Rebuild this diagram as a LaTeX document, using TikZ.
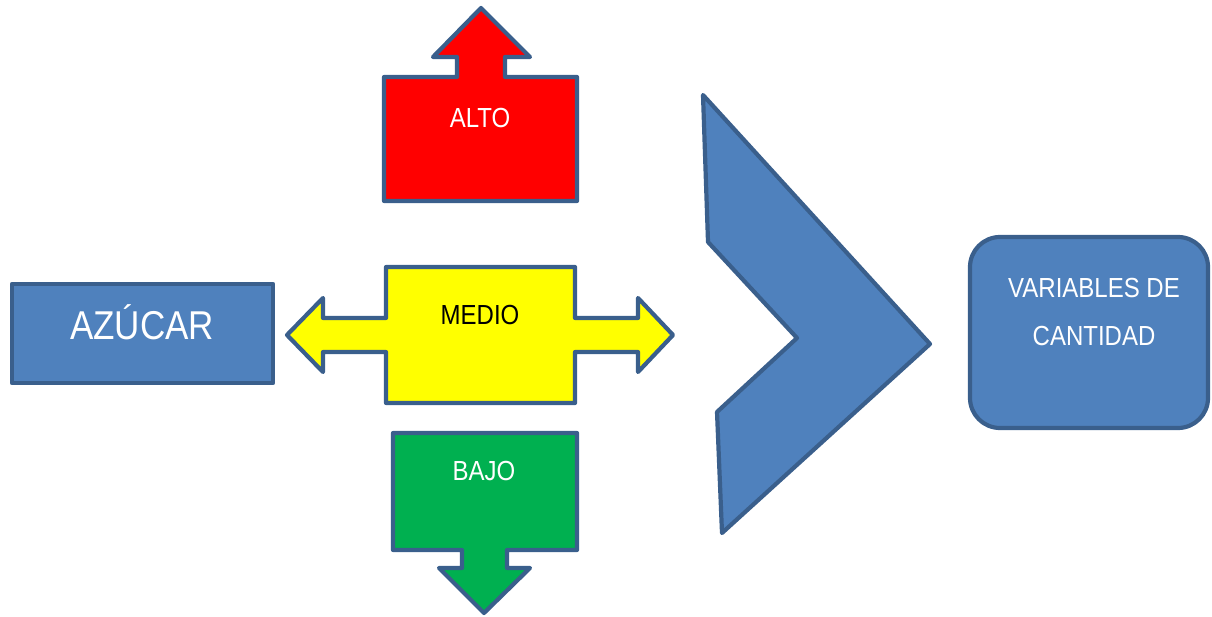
\documentclass[tikz,border=0pt]{standalone}
\usepackage{fontspec}
\setmainfont{Liberation Sans}
\definecolor{bluefill}{HTML}{4F81BD}
\definecolor{bluedraw}{HTML}{3A5F8C}
\definecolor{altored}{HTML}{FF0000}
\definecolor{medioyel}{HTML}{FFFF00}
\definecolor{bajogreen}{HTML}{00B050}
\tikzset{
  shapeline/.style={draw=bluedraw, line width=4.2pt, line join=round},
  lbl/.style={inner sep=0pt, font=\fontsize{24}{28}\selectfont},
}
\newcommand{\tall}[1]{\scalebox{1}[1.15]{#1}}
\begin{document}
\begin{tikzpicture}[x=1pt,y=-1pt]
\useasboundingbox (0,0) rectangle (1212,617);
% AZUCAR
\draw[shapeline, fill=bluefill] (12,284) rectangle (273,383);
\node[lbl, text=white, font=\fontsize{35}{38}\selectfont] (azucar) at (142,322) {\tall{AZÚCAR}};
% ALTO
\draw[shapeline, fill=altored] (481,8) -- (530,57) -- (505,57) -- (505,77) -- (577,77) -- (577,201) -- (384,201) -- (384,77) -- (457,77) -- (457,57) -- (433,57) -- cycle;
\node[lbl, text=white] (alto) at (480,118) {\tall{ALTO}};
% MEDIO
\draw[shapeline, fill=medioyel] (386,267) -- (575,267) -- (575,318) -- (638,318) -- (638,298) -- (673,335) -- (638,372) -- (638,352) -- (575,352) -- (575,403) -- (386,403) -- (386,352) -- (323,352) -- (323,372) -- (287,335) -- (323,298) -- (323,318) -- (386,318) -- cycle;
\node[lbl, text=black] (medio) at (480,315) {\tall{MEDIO}};
% BAJO
\draw[shapeline, fill=bajogreen] (393,433) -- (577,433) -- (577,550) -- (507,550) -- (507,568) -- (530,568) -- (484,613) -- (439,568) -- (462,568) -- (462,550) -- (393,550) -- cycle;
\node[lbl, text=white] (bajo) at (484,471) {\tall{BAJO}};
% Chevron
\draw[shapeline, fill=bluefill] (703,95) -- (930,344) -- (722,533) -- (717,412) -- (797,338) -- (708,242) -- cycle;
% Variables box
\draw[shapeline, fill=bluefill, rounded corners=30pt] (970,237) rectangle (1208,428);
\node[lbl, text=white, align=center] (vars) at (1094,312) {\tall{VARIABLES DE}\\[20pt]\tall{CANTIDAD}};
\end{tikzpicture}
\end{document}
